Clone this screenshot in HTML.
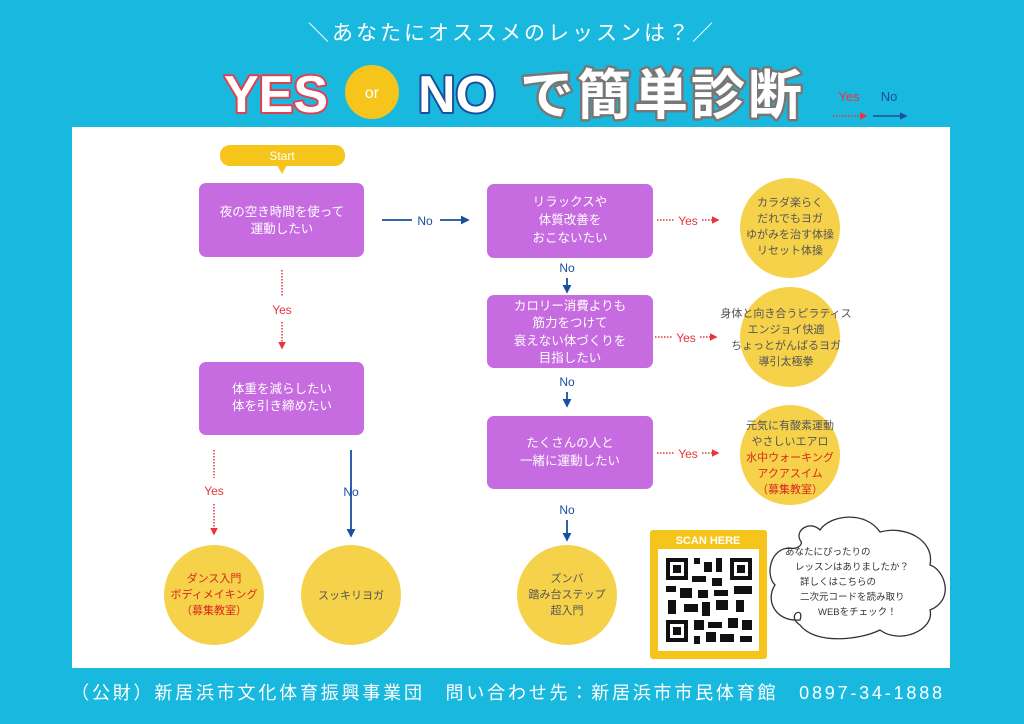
<!DOCTYPE html><html><head><meta charset="utf-8"><style>
body{margin:0;width:1024px;height:724px;overflow:hidden;background:#19b9df;}
svg{display:block}
text{font-family:"Liberation Sans","Noto Sans CJK JP",sans-serif;}
</style></head><body>
<svg width="1024" height="724" viewBox="0 0 1024 724">
<defs>
<marker id="ab" viewBox="0 0 10 10" refX="8" refY="5" markerWidth="5" markerHeight="5" orient="auto"><path d="M0,0L10,5L0,10z" fill="#1a4fa0"/></marker>
<marker id="ar" viewBox="0 0 10 10" refX="8" refY="5" markerWidth="5" markerHeight="5" orient="auto"><path d="M0,0L10,5L0,10z" fill="#e8343c"/></marker>
</defs>
<rect width="1024" height="724" fill="#19b9df"/>
<text x="512" y="40" text-anchor="middle" font-size="21" letter-spacing="3" fill="#fff">＼あなたにオススメのレッスンは？／</text>
<g font-weight="bold" font-size="52" stroke-linejoin="round">
<text x="224" y="112" fill="#fff" stroke="#e04050" stroke-width="4" paint-order="stroke">YES</text>
<text x="418" y="112" fill="#fff" stroke="#1a4fa0" stroke-width="4" paint-order="stroke">NO</text>
<text x="520" y="114" fill="#fff" stroke="#777" stroke-width="5" paint-order="stroke" font-size="54" letter-spacing="3">で簡単診断</text>
</g>
<circle cx="372" cy="92" r="27" fill="#f5c51c"/>
<text x="372" y="98" text-anchor="middle" font-size="16" fill="#fff">or</text>
<text x="849" y="101" text-anchor="middle" font-size="13" fill="#e8343c">Yes</text>
<text x="889" y="101" text-anchor="middle" font-size="13" fill="#1a4fa0">No</text>
<line x1="833" y1="116" x2="866" y2="116" stroke="#e8343c" stroke-width="1.5" stroke-dasharray="1.5 1.5" marker-end="url(#ar)"/>
<line x1="873" y1="116" x2="906" y2="116" stroke="#1a4fa0" stroke-width="1.5" marker-end="url(#ab)"/>

<rect x="72" y="127" width="878" height="541" fill="#fff"/>

<rect x="220" y="145" width="125" height="21" rx="10" fill="#f5c51c"/>
<path d="M277,165 L287,165 L282,174z" fill="#f5c51c"/>
<text x="282" y="160" text-anchor="middle" font-size="12" fill="#fff">Start</text>

<g fill="#c76be0">
<rect x="199" y="183" width="165" height="74" rx="7"/>
<rect x="199" y="362" width="165" height="73" rx="7"/>
<rect x="487" y="184" width="166" height="74" rx="7"/>
<rect x="487" y="295" width="166" height="73" rx="7"/>
<rect x="487" y="416" width="166" height="73" rx="7"/>
</g>
<g fill="#fff" font-size="12.5" text-anchor="middle">
<text x="282" y="216">夜の空き時間を使って</text><text x="282" y="233">運動したい</text>
<text x="282" y="393">体重を減らしたい</text><text x="282" y="410">体を引き締めたい</text>
<text x="570" y="206">リラックスや</text><text x="570" y="224">体質改善を</text><text x="570" y="242">おこないたい</text>
<text x="570" y="310">カロリー消費よりも</text><text x="570" y="327">筋力をつけて</text><text x="570" y="345">衰えない体づくりを</text><text x="570" y="362">目指したい</text>
<text x="570" y="447">たくさんの人と</text><text x="570" y="465">一緒に運動したい</text>
</g>

<g stroke="#1a4fa0" stroke-width="1.8" fill="none">
<line x1="382" y1="220" x2="412" y2="220"/><line x1="440" y1="220" x2="468" y2="220" marker-end="url(#ab)"/>
<line x1="567" y1="278" x2="567" y2="292" marker-end="url(#ab)"/>
<line x1="567" y1="392" x2="567" y2="406" marker-end="url(#ab)"/>
<line x1="567" y1="520" x2="567" y2="540" marker-end="url(#ab)"/>
<line x1="351" y1="450" x2="351" y2="536" marker-end="url(#ab)"/>
</g>
<g fill="#1a4fa0" font-size="12" text-anchor="middle">
<text x="425" y="225">No</text><text x="567" y="272">No</text><text x="567" y="386">No</text><text x="567" y="514">No</text><text x="351" y="496">No</text>
</g>
<g stroke="#e8343c" stroke-width="1.5" fill="none" stroke-dasharray="1.5 1.5">
<line x1="282" y1="270" x2="282" y2="296"/><line x1="282" y1="322" x2="282" y2="348" marker-end="url(#ar)"/>
<line x1="214" y1="450" x2="214" y2="478"/><line x1="214" y1="504" x2="214" y2="534" marker-end="url(#ar)"/>
<line x1="657" y1="220" x2="674" y2="220"/><line x1="702" y1="220" x2="718" y2="220" marker-end="url(#ar)"/>
<line x1="655" y1="337" x2="672" y2="337"/><line x1="700" y1="337" x2="716" y2="337" marker-end="url(#ar)"/>
<line x1="657" y1="453" x2="674" y2="453"/><line x1="702" y1="453" x2="718" y2="453" marker-end="url(#ar)"/>
</g>
<g fill="#e8343c" font-size="12" text-anchor="middle">
<text x="282" y="314">Yes</text><text x="214" y="495">Yes</text>
<text x="688" y="225">Yes</text><text x="686" y="342">Yes</text><text x="688" y="458">Yes</text>
</g>

<g fill="#f6d24a">
<circle cx="214" cy="595" r="50"/><circle cx="351" cy="595" r="50"/><circle cx="567" cy="595" r="50"/>
<circle cx="790" cy="228" r="50"/><circle cx="790" cy="337" r="50"/><circle cx="790" cy="455" r="50"/>
</g>
<g font-size="11" text-anchor="middle" fill="#555">
<text x="214" y="582" fill="#d8261e">ダンス入門</text><text x="214" y="598" fill="#d8261e">ボディメイキング</text><text x="214" y="614" fill="#d8261e">（募集教室）</text>
<text x="351" y="599">スッキリヨガ</text>
<text x="567" y="582">ズンバ</text><text x="567" y="598">踏み台ステップ</text><text x="567" y="614">超入門</text>
<text x="790" y="206">カラダ楽らく</text><text x="790" y="222">だれでもヨガ</text><text x="790" y="238">ゆがみを治す体操</text><text x="790" y="254">リセット体操</text>
<text x="786" y="317">身体と向き合うピラティス</text><text x="786" y="333">エンジョイ快適</text><text x="786" y="349">ちょっとがんばるヨガ</text><text x="786" y="365">導引太極拳</text>
<text x="790" y="429">元気に有酸素運動</text><text x="790" y="445">やさしいエアロ</text>
<text x="790" y="461" fill="#d8261e">水中ウォーキング</text><text x="790" y="477" fill="#d8261e">アクアスイム</text><text x="790" y="493" fill="#d8261e">（募集教室）</text>
</g>

<rect x="650" y="530" width="117" height="129" rx="3" fill="#f5c51c"/>
<text x="708" y="544" text-anchor="middle" font-size="11" font-weight="bold" fill="#fff">SCAN HERE</text>
<rect x="658" y="549" width="101" height="102" fill="#fff"/>
<g fill="#111">
<rect x="666" y="558" width="22" height="22"/><rect x="670" y="562" width="14" height="14" fill="#fff"/><rect x="673" y="565" width="8" height="8"/>
<rect x="730" y="558" width="22" height="22"/><rect x="734" y="562" width="14" height="14" fill="#fff"/><rect x="737" y="565" width="8" height="8"/>
<rect x="666" y="620" width="22" height="22"/><rect x="670" y="624" width="14" height="14" fill="#fff"/><rect x="673" y="627" width="8" height="8"/>
<rect x="694" y="558" width="6" height="6"/><rect x="704" y="562" width="8" height="10"/><rect x="716" y="558" width="6" height="14"/>
<rect x="692" y="576" width="14" height="6"/><rect x="712" y="578" width="10" height="8"/>
<rect x="666" y="586" width="10" height="6"/><rect x="680" y="588" width="12" height="10"/><rect x="698" y="590" width="10" height="8"/><rect x="714" y="590" width="14" height="6"/><rect x="734" y="586" width="18" height="8"/>
<rect x="668" y="600" width="8" height="14"/><rect x="684" y="604" width="14" height="8"/><rect x="702" y="602" width="8" height="14"/><rect x="716" y="600" width="12" height="10"/><rect x="736" y="600" width="8" height="12"/>
<rect x="694" y="620" width="10" height="10"/><rect x="708" y="622" width="14" height="6"/><rect x="728" y="618" width="10" height="10"/><rect x="742" y="620" width="10" height="10"/>
<rect x="694" y="636" width="6" height="8"/><rect x="706" y="632" width="10" height="10"/><rect x="720" y="634" width="14" height="8"/><rect x="740" y="636" width="12" height="6"/>
</g>
<path d="M790,548 C770,548 765,575 775,585 C765,600 775,622 800,620 C805,605 785,615 800,625 C815,645 860,640 880,630 C900,645 935,630 930,610 C955,600 945,570 930,565 C935,540 905,525 880,532 C865,510 830,515 820,530 C810,520 795,530 800,540 C805,545 795,550 790,548Z" fill="#fff" stroke="#333" stroke-width="1.3"/>
<g font-size="9.5" fill="#333">
<text x="785" y="555">あなたにぴったりの</text>
<text x="795" y="570">レッスンはありましたか？</text>
<text x="800" y="585">詳しくはこちらの</text>
<text x="800" y="600">二次元コードを読み取り</text>
<text x="818" y="615">WEBをチェック！</text>
</g>

<text x="508" y="699" text-anchor="middle" font-size="18" letter-spacing="2.8" fill="#fff">（公財）新居浜市文化体育振興事業団　問い合わせ先：新居浜市市民体育館　0897-34-1888</text>
</svg>
</body></html>
